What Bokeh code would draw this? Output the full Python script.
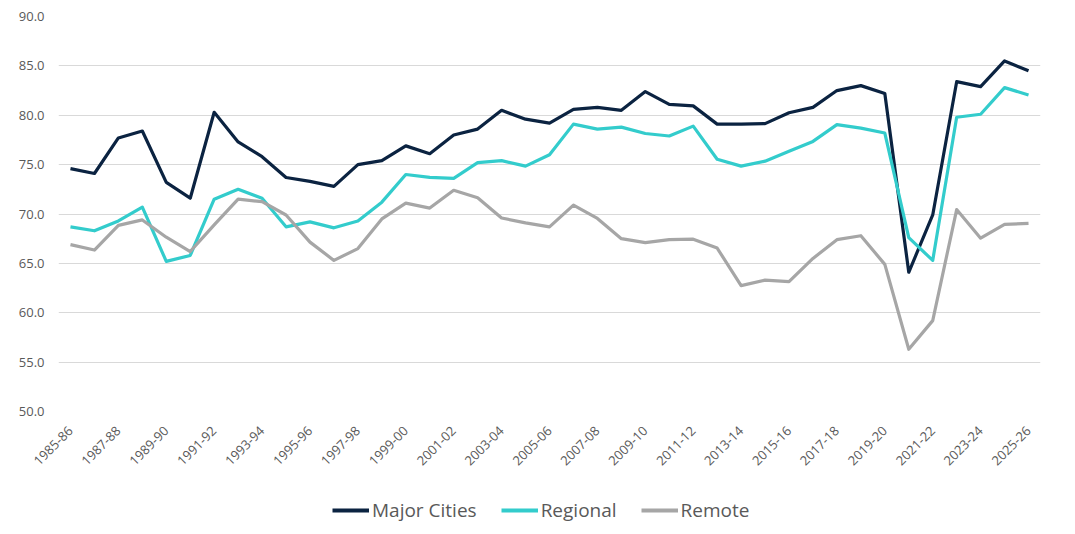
from bokeh.plotting import figure
from bokeh.layouts import column
from bokeh.models import Range1d, FixedTicker, PrintfTickFormatter, Legend, LegendItem, ColumnDataSource
from bokeh.embed import file_html
from bokeh.resources import INLINE
import math

years = [f"{y}-{str(y + 1)[-2:]}" for y in range(1985, 2026)]

major_cities = [74.6, 74.1, 77.7, 78.4, 73.2, 71.6, 80.3, 77.3, 75.8, 73.7,
                73.3, 72.8, 75.0, 75.4, 76.9, 76.1, 78.0, 78.6, 80.5, 79.6,
                79.2, 80.6, 80.8, 80.5, 82.4, 81.1, 80.95, 79.1, 79.1, 79.15,
                80.25, 80.8, 82.5, 83.0, 82.2, 64.1, 69.9, 83.4, 82.9, 85.5, 84.5]

regional = [68.7, 68.3, 69.3, 70.7, 65.2, 65.8, 71.5, 72.5, 71.6, 68.7,
            69.2, 68.6, 69.3, 71.2, 74.0, 73.7, 73.6, 75.2, 75.4, 74.85,
            76.0, 79.1, 78.6, 78.8, 78.15, 77.9, 78.9, 75.55, 74.85, 75.35,
            76.35, 77.35, 79.05, 78.7, 78.2, 67.6, 65.3, 79.8, 80.1, 82.8, 82.05]

remote = [66.9, 66.35, 68.85, 69.4, 67.65, 66.2, 68.9, 71.5, 71.25, 69.9,
          67.15, 65.3, 66.5, 69.5, 71.1, 70.6, 72.4, 71.65, 69.6, 69.1,
          68.7, 70.9, 69.55, 67.5, 67.1, 67.4, 67.45, 66.55, 62.75, 63.3,
          63.15, 65.5, 67.4, 67.8, 64.9, 56.3, 59.2, 70.45, 67.55, 68.95, 69.05]

y_ticks = [50, 55, 60, 65, 70, 75, 80, 85, 90]

series_names = ["Major Cities", "Regional", "Remote"]
series_colors = ["#0B2341", "#33CCCC", "#A6A6A6"]

idx = list(range(len(years)))
src = ColumnDataSource(dict(x=idx, major=major_cities, regional=regional, remote=remote))
cols = ["major", "regional", "remote"]

FONT = "Open Sans"
TXT = "#595959"
W = 1059

# ---------------- main chart ----------------
p = figure(width=W, height=478, output_backend="svg", toolbar_location=None,
           x_range=Range1d(-0.5, len(years) - 0.5), y_range=Range1d(50, 90),
           min_border_left=58, min_border_right=19, min_border_top=16, min_border_bottom=67)
p.outline_line_color = None
p.background_fill_color = "white"
p.border_fill_color = "white"

for col, color in zip(cols, series_colors):
    p.line("x", col, source=src, line_color=color, line_width=3.2, line_join="round")

p.xaxis.ticker = FixedTicker(ticks=idx[::2])
p.xaxis.major_label_overrides = {i: years[i] for i in idx}
p.xaxis.major_label_orientation = math.pi / 4
p.xaxis.axis_line_color = None
p.xaxis.major_tick_line_color = None
p.xaxis.minor_tick_line_color = None
p.xaxis.major_label_text_font = FONT
p.xaxis.major_label_text_font_size = "13px"
p.xaxis.major_label_text_color = TXT
p.xaxis.major_label_standoff = 11

p.yaxis.ticker = FixedTicker(ticks=y_ticks)
p.yaxis.formatter = PrintfTickFormatter(format="%.1f")
p.yaxis.axis_line_color = None
p.yaxis.major_tick_line_color = None
p.yaxis.minor_tick_line_color = None
p.yaxis.major_label_text_font = FONT
p.yaxis.major_label_text_font_size = "13px"
p.yaxis.major_label_text_color = TXT
p.yaxis.major_label_standoff = 8

p.xgrid.grid_line_color = None
p.ygrid.grid_line_color = "#D9D9D9"
p.ygrid.grid_line_width = 1.2

# ---------------- legend strip ----------------
lg = figure(width=W, height=52, output_backend="svg", toolbar_location=None,
            x_range=Range1d(-0.5, len(years) - 0.5), y_range=Range1d(50, 90),
            min_border_left=0, min_border_right=0, min_border_top=0, min_border_bottom=0)
lg.axis.visible = False
lg.grid.visible = False
lg.outline_line_color = None
lg.border_fill_color = "white"

items = []
for col, name, color in zip(cols, series_names, series_colors):
    r = lg.line("x", col, source=src, line_color=color, line_width=4, visible=False)
    items.append(LegendItem(label=name, renderers=[r]))

legend = Legend(items=items, orientation="horizontal", location=(274, 7),
                border_line_color=None, background_fill_alpha=0,
                inactive_fill_alpha=0,
                label_text_font=FONT, label_text_font_size="19px",
                label_text_color=TXT, glyph_width=37, glyph_height=24,
                spacing=24, label_standoff=3, margin=0, padding=0)
lg.add_layout(legend, "center")

layout = column(p, lg, spacing=0)
open("out.html", "w").write(file_html(layout, INLINE))
